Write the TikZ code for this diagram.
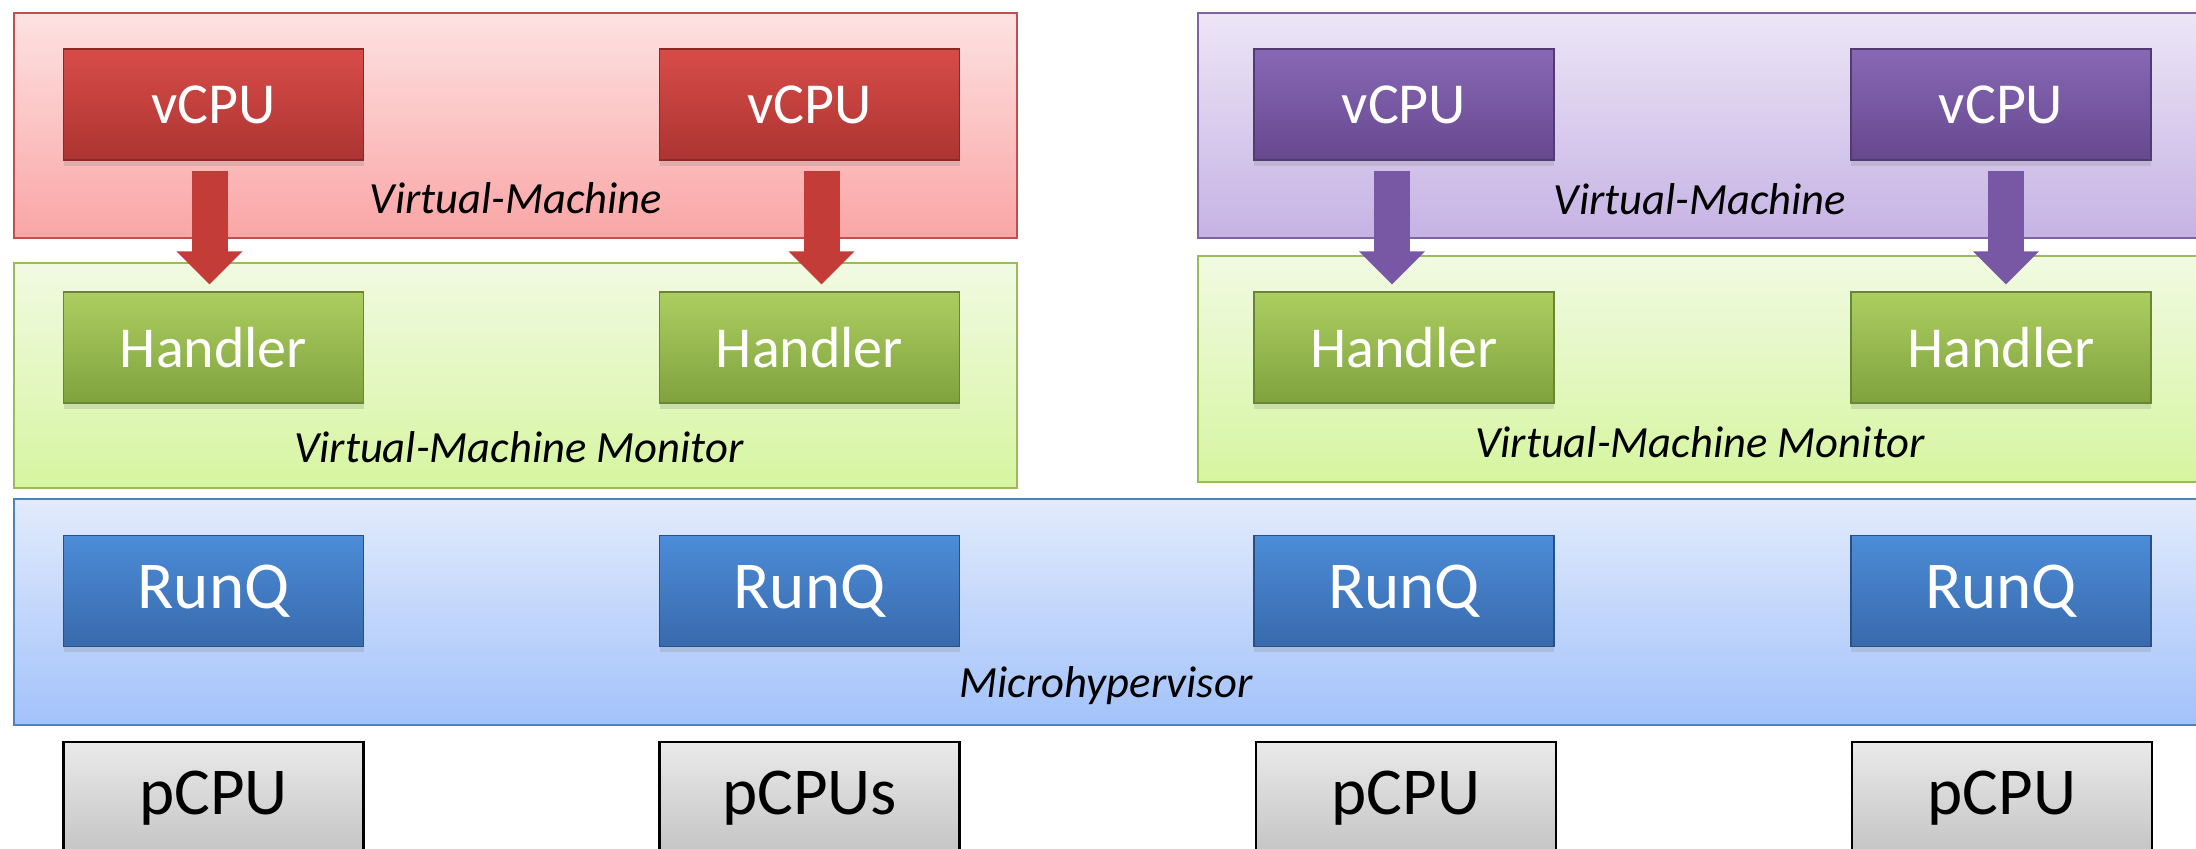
\documentclass[tikz,border=0pt]{standalone}
\usepackage{fontspec}
\setmainfont{Carlito}
\usetikzlibrary{arrows.meta,shadows}

\definecolor{vmredT}{RGB}{253,226,226}
\definecolor{vmredB}{RGB}{250,165,165}
\definecolor{vmredL}{RGB}{192,80,77}
\definecolor{vmgrnT}{RGB}{241,250,226}
\definecolor{vmgrnB}{RGB}{214,245,160}
\definecolor{vmgrnL}{RGB}{155,187,89}
\definecolor{vmpurT}{RGB}{236,230,246}
\definecolor{vmpurB}{RGB}{198,178,228}
\definecolor{vmpurL}{RGB}{128,100,162}
\definecolor{vmbluT}{RGB}{226,235,252}
\definecolor{vmbluB}{RGB}{163,194,250}
\definecolor{vmbluL}{RGB}{79,129,189}

\definecolor{redT}{RGB}{216,76,72}
\definecolor{redB}{RGB}{172,52,50}
\definecolor{redL}{RGB}{140,40,38}
\definecolor{grnT}{RGB}{172,206,96}
\definecolor{grnB}{RGB}{128,162,62}
\definecolor{grnL}{RGB}{105,135,50}
\definecolor{purT}{RGB}{136,104,182}
\definecolor{purB}{RGB}{102,72,142}
\definecolor{purL}{RGB}{82,58,115}
\definecolor{bluT}{RGB}{76,140,216}
\definecolor{bluB}{RGB}{56,106,172}
\definecolor{bluL}{RGB}{40,80,135}
\definecolor{gryT}{RGB}{234,234,234}
\definecolor{gryB}{RGB}{196,196,196}
\definecolor{arrred}{RGB}{196,60,56}
\definecolor{arrpur}{RGB}{120,88,165}

\tikzset{
  layerbox/.style={line width=1.3pt},
  cpubox/.style={rectangle, minimum width=150pt, minimum height=55.5pt, inner sep=0pt,
    text=white, font=\fontsize{29}{34}\selectfont,
    drop shadow={shadow xshift=0pt,shadow yshift=-3pt,opacity=0.22}},
  redbox/.style={cpubox, top color=redT, bottom color=redB, draw=redL, line width=0.6pt},
  purbox/.style={cpubox, top color=purT, bottom color=purB, draw=purL, line width=0.6pt},
  grnbox/.style={cpubox, top color=grnT, bottom color=grnB, draw=grnL, line width=0.6pt},
  blubox/.style={cpubox, top color=bluT, bottom color=bluB, draw=bluL, line width=0.6pt,
    font=\fontsize{33.5}{38}\selectfont},
  pbox/.style={rectangle, minimum width=150pt, minimum height=56pt, inner sep=0pt,
    top color=gryT, bottom color=gryB, draw=black, line width=1.4pt,
    font=\fontsize{33.5}{38}\selectfont},
  layerlabel/.style={font=\fontsize{22.3}{27}\selectfont\itshape, inner sep=0pt},
  redarrow/.style={line width=18pt, draw=arrred, -{Triangle[width=32pt,length=16.5pt]}},
  purarrow/.style={line width=18pt, draw=arrpur, -{Triangle[width=32pt,length=16.5pt]}},
}

\begin{document}
\begin{tikzpicture}[x=0.5pt,y=-0.5pt]
\useasboundingbox (0,0) rectangle (2196,849);
\fill[white] (0,0) rectangle (2196,849);
\begin{scope}
\clip (0,0) rectangle (2196,849);

% layer backgrounds
\draw[layerbox, top color=vmredT, bottom color=vmredB, draw=vmredL] (14,13) rectangle (1017,238);
\draw[layerbox, top color=vmgrnT, bottom color=vmgrnB, draw=vmgrnL] (14,263) rectangle (1017,488);
\draw[layerbox, top color=vmpurT, bottom color=vmpurB, draw=vmpurL] (1198,13) rectangle (2210,238);
\draw[layerbox, top color=vmgrnT, bottom color=vmgrnB, draw=vmgrnL] (1198,256) rectangle (2210,482);
\draw[layerbox, top color=vmbluT, bottom color=vmbluB, draw=vmbluL] (14,499) rectangle (2210,725);

% labels
\node[layerlabel] (lvm1) at (516,198) {Virtual-Machine};
\node[layerlabel] (lvmm1) at (519,447) {Virtual-Machine Monitor};
\node[layerlabel] (lvm2) at (1700,199) {Virtual-Machine};
\node[layerlabel] (lvmm2) at (1700,442) {Virtual-Machine Monitor};
\node[layerlabel] (lmh) at (1106,686) {Microhypervisor};

% vCPUs
\node[redbox] (v1) at (213.5,104.5) {vCPU};
\node[redbox] (v2) at (809.5,104.5) {vCPU};
\node[purbox] (v3) at (1404,104.5) {vCPU};
\node[purbox] (v4) at (2001,104.5) {vCPU};

% Handlers
\node[grnbox] (h1) at (213.5,347.5) {Handler};
\node[grnbox] (h2) at (809.5,347.5) {Handler};
\node[grnbox] (h3) at (1404,347.5) {Handler};
\node[grnbox] (h4) at (2001,347.5) {Handler};

% RunQs
\node[blubox] (r1) at (213.5,591) {RunQ};
\node[blubox] (r2) at (809.5,591) {RunQ};
\node[blubox] (r3) at (1404,591) {RunQ};
\node[blubox] (r4) at (2001,591) {RunQ};

% pCPUs
\node[pbox] (p1) at (213.5,798) {pCPU};
\node[pbox] (p2) at (809.5,798) {pCPUs};
\node[pbox] (p3) at (1406,798) {pCPU};
\node[pbox] (p4) at (2002,798) {pCPU};

% arrows
\draw[redarrow] ([xshift=-2pt,yshift=-5pt]v1.south) -- ([xshift=-2pt,yshift=3.5pt]h1.north);
\draw[redarrow] ([xshift=6pt,yshift=-5pt]v2.south) -- ([xshift=6pt,yshift=3.5pt]h2.north);
\draw[purarrow] ([xshift=-6pt,yshift=-5pt]v3.south) -- ([xshift=-6pt,yshift=3.5pt]h3.north);
\draw[purarrow] ([xshift=2.5pt,yshift=-5pt]v4.south) -- ([xshift=2.5pt,yshift=3.5pt]h4.north);
\end{scope}
\end{tikzpicture}
\end{document}
